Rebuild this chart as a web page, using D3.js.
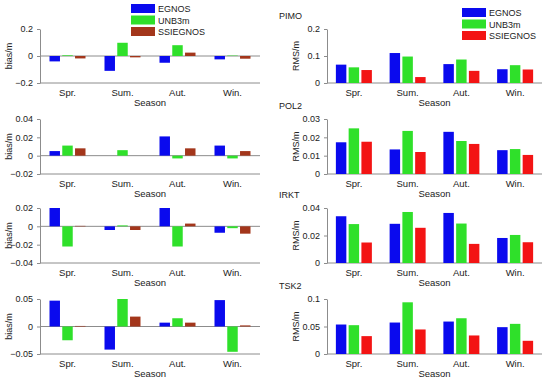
<!DOCTYPE html>
<html>
<head>
<meta charset="utf-8">
<script src="https://cdn.jsdelivr.net/npm/d3@7"></script>
<style>
  body { margin: 0; background: #fff; }
  svg { font-family: "Liberation Sans", Arial, sans-serif; }
  .axis path, .axis line { stroke: #8c8c8c; }
  .axis text { fill: #222; font-size: 9px; }
</style>
</head>
<body>
<svg id="chart" width="550" height="381"></svg>
<script>
// seasons and series
var seasons = ["Spr.", "Sum.", "Aut.", "Win."];
var series = ["EGNOS", "UNB3m", "SSIEGNOS"];

// bias per station (left column), rows = series, cols = seasons
var biasPIMO = [[-0.04, -0.11, -0.05, -0.025], [0.005, 0.098, 0.08, 0.003], [-0.018, -0.01, 0.025, -0.02]];
var biasPOL2 = [[0.005, 0.0, 0.021, 0.011], [0.011, 0.006, -0.003, -0.003], [0.008, 0.0, 0.008, 0.005]];
var biasIRKT = [[0.02, -0.004, 0.02, -0.007], [-0.022, 0.001, -0.022, -0.002], [0.0005, -0.004, 0.003, -0.008]];
var biasTSK2 = [[0.047, -0.042, 0.007, 0.048], [-0.025, 0.05, 0.015, -0.046], [0.001, 0.018, 0.007, 0.002]];

// RMS per station (right column)
var rmsPIMO = [[0.068, 0.111, 0.07, 0.051], [0.058, 0.098, 0.087, 0.066], [0.048, 0.022, 0.045, 0.05]];
var rmsPOL2 = [[0.0173, 0.0134, 0.023, 0.013], [0.0249, 0.0235, 0.018, 0.0136], [0.0176, 0.012, 0.0164, 0.0104]];
var rmsIRKT = [[0.034, 0.0285, 0.0364, 0.0182], [0.0283, 0.0371, 0.0287, 0.0204], [0.0149, 0.0256, 0.0139, 0.0151]];
var rmsTSK2 = [[0.0536, 0.0572, 0.059, 0.0488], [0.0524, 0.094, 0.065, 0.0548], [0.0325, 0.0446, 0.0337, 0.024]];

var biasTicks = [[-0.2, 0, 0.2], [-0.02, 0, 0.02, 0.04], [-0.04, -0.02, 0, 0.02], [-0.05, 0, 0.05]];
var rmsTicks = [[0, 0.1, 0.2], [0, 0.01, 0.02, 0.03], [0, 0.02, 0.04], [0, 0.05, 0.1]];
var stations = ["PIMO", "POL2", "IRKT", "TSK2"];

var leftColors = ["#0a0aee", "#2fe02a", "#a3361b"];
var rightColors = ["#0a0aee", "#2fe02a", "#f31414"];

var svg = d3.select("#chart");

// pixel rows of each panel: [top of domain, bottom of domain]
var rows = [[29, 83], [119, 174], [208, 263], [299, 354]];

function drawPanel(data, ticks, x0, x1, row, colors, ylabel, title) {
  var g = svg.append("g");
  var y = d3.scaleLinear().domain(d3.extent(ticks)).range([row[1], row[0]]);
  var x = d3.scaleBand().domain(seasons).range([x0, x1]);
  var xi = d3.scaleBand().domain(series).range([-18, 18]).paddingInner(0.18);

  // bottom axis line
  g.append("line").attr("x1", x0).attr("x2", x1)
    .attr("y1", row[1]).attr("y2", row[1]).attr("stroke", "#8c8c8c");
  // zero line
  if (ticks[0] < 0) {
    g.append("line").attr("x1", x0).attr("x2", x1)
      .attr("y1", y(0)).attr("y2", y(0)).attr("stroke", "#8c8c8c");
  }

  var yAxis = d3.axisLeft(y).tickValues(ticks).tickSize(3).tickSizeOuter(0).tickPadding(4)
    .tickFormat(function(d) { return d === 0 ? "0" : d3.format("")(+d.toFixed(3)); });
  g.append("g").attr("class", "axis")
    .attr("transform", "translate(" + x0 + ",0)")
    .call(yAxis);

  // bars
  series.forEach(function(s, si) {
    g.selectAll(null).data(data[si]).enter().append("rect")
      .attr("x", function(d, i) { return x(seasons[i]) + x.bandwidth() / 2 + xi(s); })
      .attr("width", xi.bandwidth())
      .attr("y", function(d) { return y(Math.max(0, d)); })
      .attr("height", function(d) { return Math.abs(y(d) - y(0)); })
      .attr("fill", colors[si]);
  });

  // category labels
  g.selectAll(null).data(seasons).enter().append("text")
    .attr("x", function(d) { return x(d) + x.bandwidth() / 2; })
    .attr("y", row[1] + 13)
    .attr("text-anchor", "middle")
    .attr("font-size", "9.5px")
    .attr("fill", "#222")
    .text(function(d) { return d; });

  g.append("text")
    .attr("x", (x0 + x1) / 2)
    .attr("y", row[1] + 23)
    .attr("text-anchor", "middle")
    .attr("font-size", "9.5px")
    .attr("fill", "#222")
    .text("Season");

  g.append("text")
    .attr("transform", "translate(" + (x0 - 28) + "," + ((row[0] + row[1]) / 2) + ") rotate(-90)")
    .attr("text-anchor", "middle")
    .attr("font-size", "9px")
    .attr("fill", "#222")
    .text(ylabel);

  if (title) {
    g.append("text").attr("x", 279).attr("y", row[0] - 10)
      .attr("font-size", "9px").attr("fill", "#222").text(title);
  }
}

function drawLegend(x, y, colors) {
  var lg = svg.append("g").attr("transform", "translate(" + x + "," + y + ")");
  series.forEach(function(s, i) {
    lg.append("rect").attr("x", 0).attr("y", i * 11.5).attr("width", 24).attr("height", 9)
      .attr("fill", colors[i]);
    lg.append("text").attr("x", 27).attr("y", i * 11.5 + 8)
      .attr("font-size", "9px").attr("fill", "#222").text(s);
  });
}

var biasData = [biasPIMO, biasPOL2, biasIRKT, biasTSK2];
var rmsData = [rmsPIMO, rmsPOL2, rmsIRKT, rmsTSK2];

for (var k = 0; k < 4; k++) {
  drawPanel(biasData[k], biasTicks[k], 40, 260, rows[k], leftColors, "bias/m", null);
  drawPanel(rmsData[k], rmsTicks[k], 327, 542, rows[k], rightColors, "RMS/m", stations[k]);
}

drawLegend(131, 4, leftColors);
drawLegend(462, 8, rightColors);
</script>
</body>
</html>
